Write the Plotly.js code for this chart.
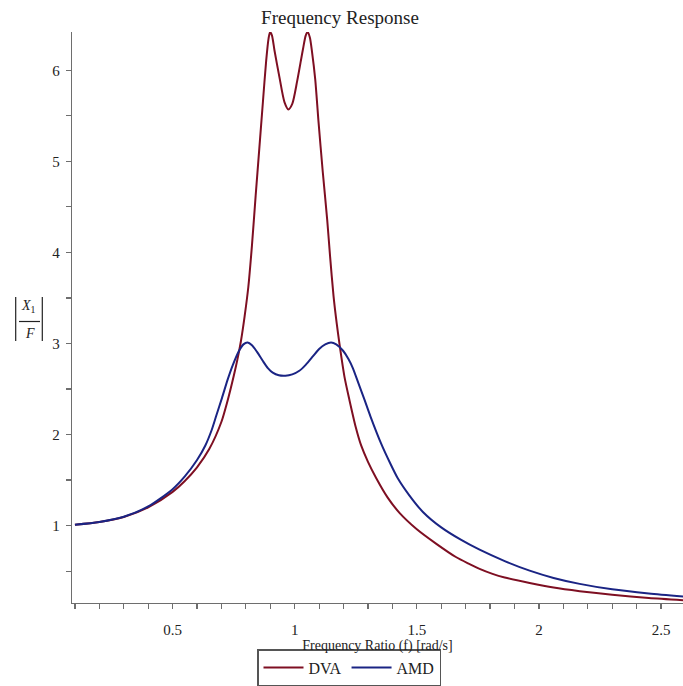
<!DOCTYPE html>
<html>
<head>
<meta charset="utf-8">
<script src="https://cdn.plot.ly/plotly-3.0.1.min.js"></script>
<style>html,body{margin:0;padding:0;background:#fff;}#chart{width:683px;height:686px;}</style>
</head>
<body>
<div id="chart"></div>
<script>
// DVA (red) frequency response
const dvaF = [0.1, 0.2, 0.3, 0.4, 0.5, 0.55, 0.6, 0.65, 0.7, 0.724, 0.75, 0.765, 0.78, 0.795, 0.81, 0.825, 0.84, 0.855, 0.87, 0.883, 0.893, 0.899, 0.907, 0.917, 0.937, 0.958, 0.974, 0.99, 1.01, 1.033, 1.045, 1.053, 1.062, 1.071, 1.084, 1.097, 1.115, 1.133, 1.145, 1.159, 1.172, 1.183, 1.204, 1.224, 1.25, 1.272, 1.3, 1.334, 1.38, 1.429, 1.5, 1.58, 1.66, 1.71, 1.757, 1.81, 1.86, 1.962, 2.06, 2.167, 2.3, 2.45, 2.6];
const dvaY = [1.01, 1.04, 1.095, 1.2, 1.37, 1.49, 1.64, 1.84, 2.14, 2.36, 2.64, 2.82, 3.03, 3.30, 3.62, 4.08, 4.62, 5.14, 5.66, 6.10, 6.35, 6.42, 6.38, 6.22, 5.93, 5.65, 5.57, 5.63, 5.88, 6.22, 6.38, 6.42, 6.36, 6.2, 5.9, 5.45, 4.88, 4.36, 3.95, 3.52, 3.22, 3.0, 2.63, 2.38, 2.08, 1.88, 1.70, 1.52, 1.31, 1.14, 0.96, 0.80, 0.655, 0.585, 0.525, 0.47, 0.43, 0.37, 0.32, 0.28, 0.24, 0.205, 0.18];
// AMD (blue) frequency response
const amdF = [0.1, 0.2, 0.3, 0.4, 0.5, 0.55, 0.6, 0.634, 0.66, 0.678, 0.702, 0.725, 0.746, 0.77, 0.79, 0.807, 0.825, 0.845, 0.869, 0.89, 0.91, 0.935, 0.962, 0.99, 1.019, 1.045, 1.075, 1.1, 1.125, 1.149, 1.17, 1.198, 1.22, 1.238, 1.26, 1.286, 1.31, 1.354, 1.39, 1.422, 1.47, 1.525, 1.6, 1.68, 1.757, 1.86, 1.962, 2.06, 2.167, 2.3, 2.45, 2.6];
const amdY = [1.01, 1.04, 1.097, 1.21, 1.40, 1.54, 1.72, 1.88, 2.05, 2.2, 2.4, 2.6, 2.76, 2.91, 2.99, 3.01, 2.98, 2.91, 2.81, 2.73, 2.68, 2.65, 2.645, 2.66, 2.7, 2.765, 2.86, 2.94, 2.99, 3.01, 2.99, 2.92, 2.83, 2.73, 2.57, 2.38, 2.2, 1.9, 1.69, 1.52, 1.33, 1.15, 0.98, 0.845, 0.735, 0.61, 0.505, 0.425, 0.36, 0.30, 0.255, 0.22];
const seriesNames = ['DVA', 'AMD'];
const xTickVals = [0.5, 1, 1.5, 2, 2.5];
const xTickText = ['0.5', '1', '1.5', '2', '2.5'];
const yTickVals = [1, 2, 3, 4, 5, 6];

const W = 683, H = 686, L = 72, R = 0, T = 32, B = 83;
const pw = W - L - R, ph = H - T - B;
const px2x = p => (p - L) / pw;
const px2y = p => (H - B - p) / ph;
const serif = 'Liberation Serif, Times New Roman, serif';

const traces = [
  {x: dvaF, y: dvaY, name: seriesNames[0], type: 'scatter', mode: 'lines',
   line: {color: '#7e0f22', width: 2, shape: 'spline', smoothing: 0.7}},
  {x: amdF, y: amdY, name: seriesNames[1], type: 'scatter', mode: 'lines',
   line: {color: '#1a2484', width: 2, shape: 'spline', smoothing: 0.7}}
];

const axisCommon = {
  showgrid: false, zeroline: false, showline: true, linecolor: '#6e6e6e', linewidth: 1.3,
  ticks: 'outside', ticklen: 5, tickcolor: '#6e6e6e', tickwidth: 1.2,
  tickfont: {family: serif, size: 15, color: '#222'}
};

const layout = {
  width: W, height: H,
  margin: {l: L, r: R, t: T, b: B, pad: 0},
  paper_bgcolor: '#fff', plot_bgcolor: '#fff',
  title: {text: 'Frequency Response', font: {family: serif, size: 19, color: '#222'},
          x: 340 / W, xref: 'container', xanchor: 'center', y: 1 - 17 / H, yref: 'container', yanchor: 'middle'},
  xaxis: Object.assign({}, axisCommon, {
    range: [0.088, 2.59], tickvals: xTickVals, ticktext: xTickText, ticklabelstandoff: 8,
    minor: {dtick: 0.1, tick0: 0, ticks: 'outside', ticklen: 5, tickcolor: '#6e6e6e', tickwidth: 1.2},
    title: {text: 'Frequency Ratio (f) [rad/s]', font: {family: serif, size: 14, color: '#222'}, standoff: 2}
  }),
  yaxis: Object.assign({}, axisCommon, {
    range: [0.15, 6.42], tickvals: yTickVals, ticklabelstandoff: 3,
    minor: {dtick: 0.5, tick0: 0, ticks: 'outside', ticklen: 5, tickcolor: '#6e6e6e', tickwidth: 1.2}
  }),
  showlegend: true,
  legend: {orientation: 'h', x: px2x(349), xanchor: 'center', y: px2y(649), yanchor: 'top',
           bordercolor: '#555', borderwidth: 1.5, bgcolor: '#fff',
           font: {family: serif, size: 16, color: '#222'}, itemwidth: 40, tracegroupgap: 0},
  annotations: [
    {xref: 'paper', yref: 'paper', x: px2x(29), y: px2y(306), text: '<i>X</i><sub>1</sub>', showarrow: false,
     font: {family: serif, size: 14, color: '#222'}, xanchor: 'center', yanchor: 'middle'},
    {xref: 'paper', yref: 'paper', x: px2x(30), y: px2y(333), text: '<i>F</i>', showarrow: false,
     font: {family: serif, size: 14, color: '#222'}, xanchor: 'center', yanchor: 'middle'}
  ],
  shapes: [
    {type: 'line', xref: 'paper', yref: 'paper', x0: px2x(15.7), x1: px2x(15.7), y0: px2y(297), y1: px2y(341), line: {color: '#222', width: 1.2}},
    {type: 'line', xref: 'paper', yref: 'paper', x0: px2x(42.3), x1: px2x(42.3), y0: px2y(297), y1: px2y(341), line: {color: '#222', width: 1.2}},
    {type: 'line', xref: 'paper', yref: 'paper', x0: px2x(19), x1: px2x(40), y0: px2y(321.5), y1: px2y(321.5), line: {color: '#222', width: 1.2}}
  ]
};

Plotly.newPlot('chart', traces, layout, {displayModeBar: false, staticPlot: true});
</script>
</body>
</html>
